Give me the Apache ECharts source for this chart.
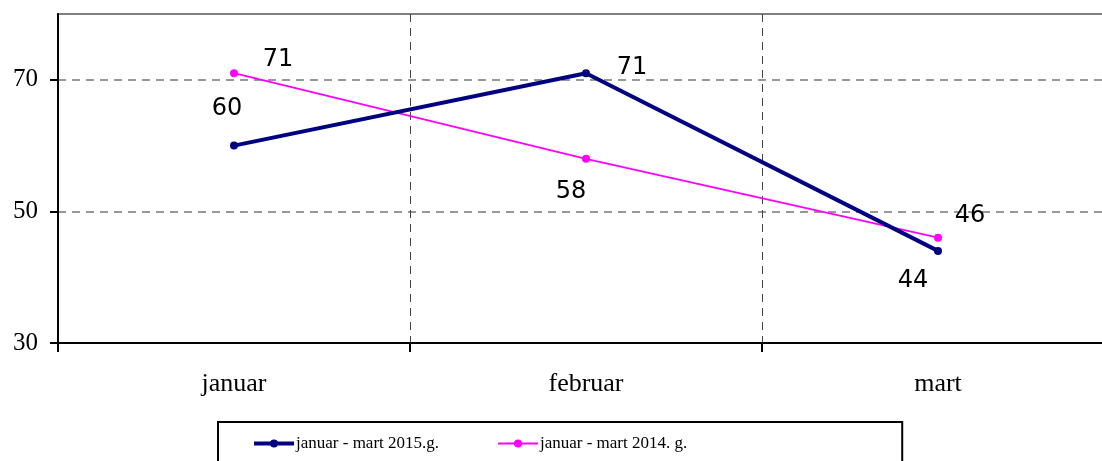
<!DOCTYPE html>
<html>
<head>
<meta charset="utf-8">
<script src="https://cdn.jsdelivr.net/npm/echarts@6/dist/echarts.min.js"></script>
<style>
  html, body { margin: 0; padding: 0; background: #fff; overflow: hidden; }
  #chart { width: 1116px; height: 461px; }
</style>
</head>
<body>
<div id="chart"></div>
<script>
// podaci
const months = ['januar', 'februar', 'mart']
const values2015 = [60, 71, 44]
const values2014 = [71, 58, 46]
const yTicks = [30, 50, 70]
const seriesNames = ['januar - mart 2015.g.', 'januar - mart 2014. g.']

// pomak natpisa od tacke (px)
const offsets2015 = [[-7, -37], [46, -5], [-25, 30]]
const offsets2014 = [[44, -13], [-15, 33], [32, -22]]

const labelFont = {
  fontFamily: 'DejaVu Sans',
  fontSize: 24,
  color: '#000',
}

function withLabels(values, offsets) {
  return values.map((v, i) => ({
    value: v,
    label: {
      show: true,
      position: 'inside',
      offset: offsets[i],
      align: 'center',
      verticalAlign: 'middle',
      ...labelFont,
    },
  }))
}

const chart = echarts.init(document.getElementById('chart'))

chart.setOption({
  animation: false,
  backgroundColor: '#fff',
  grid: {
    left: 58,
    right: 2,
    top: 14,
    bottom: 118,
    show: true,
    borderColor: '#808080',
    borderWidth: 2,
    containLabel: false,
  },
  legend: {
    left: 218,
    top: 422,
    padding: [13, 215, 40, 34],
    borderColor: '#000',
    borderWidth: 2,
    itemWidth: 40,
    itemHeight: 10,
    itemGap: 58,
    textStyle: {
      fontFamily: 'Liberation Serif',
      fontSize: 17,
      color: '#000',
      padding: [0, 0, 0, -3],
    },
    data: [
      { name: seriesNames[0], lineStyle: { width: 4 } },
      { name: seriesNames[1], lineStyle: { width: 1.8 } },
    ],
  },
  xAxis: {
    type: 'category',
    data: months,
    boundaryGap: true,
    axisLine: { lineStyle: { color: '#000', width: 2 } },
    axisTick: { show: true, length: 9, lineStyle: { color: '#000', width: 2 } },
    axisLabel: {
      margin: 28,
      fontFamily: 'Liberation Serif',
      fontSize: 26,
      color: '#000',
    },
    splitLine: {
      show: true,
      lineStyle: { color: '#444', type: [8, 6], width: 1 },
    },
  },
  yAxis: {
    type: 'value',
    min: 30,
    max: 80,
    interval: 10,
    axisLine: { show: true, lineStyle: { color: '#000', width: 2 } },
    axisTick: {
      show: true,
      length: 8,
      customValues: yTicks,
      lineStyle: { color: '#000', width: 2 },
    },
    axisLabel: {
      margin: 20,
      customValues: yTicks,
      fontFamily: 'Liberation Serif',
      fontSize: 25,
      color: '#000',
    },
    splitLine: {
      show: true,
      lineStyle: { color: '#777', type: [8, 6], width: 1.5 },
    },
  },
  series: [
    {
      name: seriesNames[0],
      type: 'line',
      data: withLabels(values2015, offsets2015),
      symbol: 'circle',
      symbolSize: 8,
      itemStyle: { color: '#000080' },
      lineStyle: { color: '#000080', width: 4 },
      z: 3,
    },
    {
      name: seriesNames[1],
      type: 'line',
      data: withLabels(values2014, offsets2014),
      symbol: 'circle',
      symbolSize: 8,
      itemStyle: { color: '#ff00ff' },
      lineStyle: { color: '#ff00ff', width: 1.8 },
      z: 2,
    },
  ],
})
</script>
</body>
</html>
